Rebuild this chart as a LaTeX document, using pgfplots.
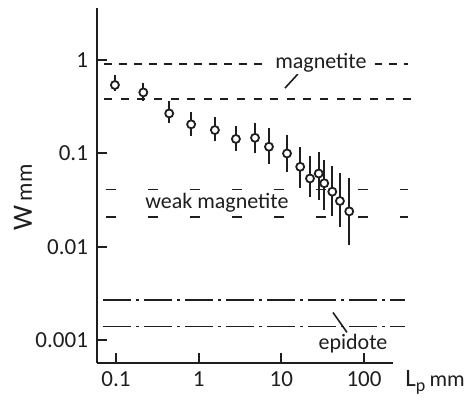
\documentclass[border=0pt]{standalone}
\usepackage{pgfplots}
\pgfplotsset{compat=1.18}
\usepackage{pgfplotstable}
\usepackage{fontspec}
\setmainfont{Carlito}

% W against L_p, with the ranges of the error bars
\pgfplotstableread{
x     y      lo      hi
0.097 0.54   0.466   0.69
0.214 0.45   0.364   0.563
0.44  0.268  0.21    0.364
0.81  0.205  0.154   0.279
1.57  0.178  0.135   0.247
2.82  0.143  0.106   0.198
4.80  0.147  0.100   0.21
7.08  0.118  0.078   0.185
11.7  0.100  0.0635  0.157
16.9  0.072  0.043   0.118
22.2  0.054  0.0338  0.0935
28.3  0.061  0.0316  0.104
33.0  0.048  0.0247  0.086
41.3  0.039  0.0213  0.073
51.1  0.031  0.0163  0.062
66.2  0.024  0.0104  0.054
}\wdata

\definecolor{ink}{HTML}{1E1E1E}

\begin{document}
\begin{tikzpicture}
\begin{axis}[
    scale only axis, width=148pt, height=177.4pt,
    xmode=log, ymode=log,
    xmin=0.0589, xmax=224, ymin=0.000575, ymax=3.6,
    axis x line*=bottom, axis y line*=left,
    axis line style={line width=1.2pt, ink},
    xtick={0.1,1,10,100}, xticklabels={0.1,1,10,100},
    ytick={0.001,0.01,0.1,1}, yticklabels={0.001,0.01,0.1,1},
    xminorticks=false, yminorticks=false,
    tick align=inside, major tick length=5pt,
    tick style={line width=1pt, ink},
    ticklabel style={font=\fontsize{11.5}{13}\selectfont, text=ink},
    xticklabel style={yshift=-1pt},
    yticklabel style={xshift=-1pt},
    clip=false,
]
% magnetite
\addplot[no marks, line width=0.9pt, ink, dash pattern=on 4pt off 3.5pt] coordinates {(0.072,0.9) (337,0.9)};
\addplot[no marks, line width=0.9pt, ink, dash pattern=on 4pt off 4.3pt] coordinates {(0.072,0.38) (388,0.38)};
% weak magnetite
\addplot[no marks, line width=0.9pt, ink, dash pattern=on 5pt off 16pt] coordinates {(0.075,0.0411) (337,0.0411)};
\addplot[no marks, line width=0.9pt, ink, dash pattern=on 5pt off 16pt] coordinates {(0.075,0.0209) (337,0.0209)};
% epidote
\addplot[no marks, line width=0.9pt, ink, dash pattern=on 14pt off 2.5pt on 1.5pt off 2.5pt] coordinates {(0.07,0.00273) (310,0.00273)};
\addplot[no marks, line width=0.9pt, ink, dash pattern=on 14pt off 2.5pt on 1.5pt off 2.5pt] coordinates {(0.07,0.00141) (310,0.00141)};
% pointers
\addplot[no marks, line width=0.8pt, ink] coordinates {(11.06,0.501) (15.85,0.708)};
\addplot[no marks, line width=0.8pt, ink] coordinates {(42.1,0.00199) (62.1,0.00122)};

\addplot[only marks, mark=*, mark size=2pt, ink,
    mark options={fill=white, draw=ink, line width=0.9pt},
    error bars/.cd, y dir=both, y explicit, error mark=none,
    error bar style={line width=0.9pt, ink}]
    table[x=x, y=y, y error plus expr=\thisrow{hi}-\thisrow{y},
          y error minus expr=\thisrow{y}-\thisrow{lo}] {\wdata};

\node[fill=white, inner xsep=4pt, inner ysep=1pt, text=ink, font=\fontsize{11}{12}\selectfont] at (axis cs:30.1,0.93) {magnetite};
\node[text=ink, font=\fontsize{11}{12}\selectfont] at (axis cs:1.66,0.030) {weak magnetite};
\node[text=ink, font=\fontsize{11}{12}\selectfont] at (axis cs:73.5,0.000927) {epidote};

\node[rotate=90, text=ink] at (rel axis cs:-0.25,0.466) {\fontsize{14}{16}\selectfont W\,{\fontsize{11.5}{13}\selectfont mm}};
\node[anchor=base west, inner sep=0pt, text=ink] at (rel axis cs:1.0405,-0.0677) {\fontsize{12.5}{14}\selectfont L\raisebox{-0.35ex}{\fontsize{9}{10}\selectfont p}\,{\fontsize{11}{12}\selectfont mm}};

\coordinate (bl) at (rel axis cs:-0.3277,-0.1136);
\coordinate (tr) at (rel axis cs:1.2669,1.0226);
\end{axis}
\path (bl) rectangle (tr);
\end{tikzpicture}
\end{document}
